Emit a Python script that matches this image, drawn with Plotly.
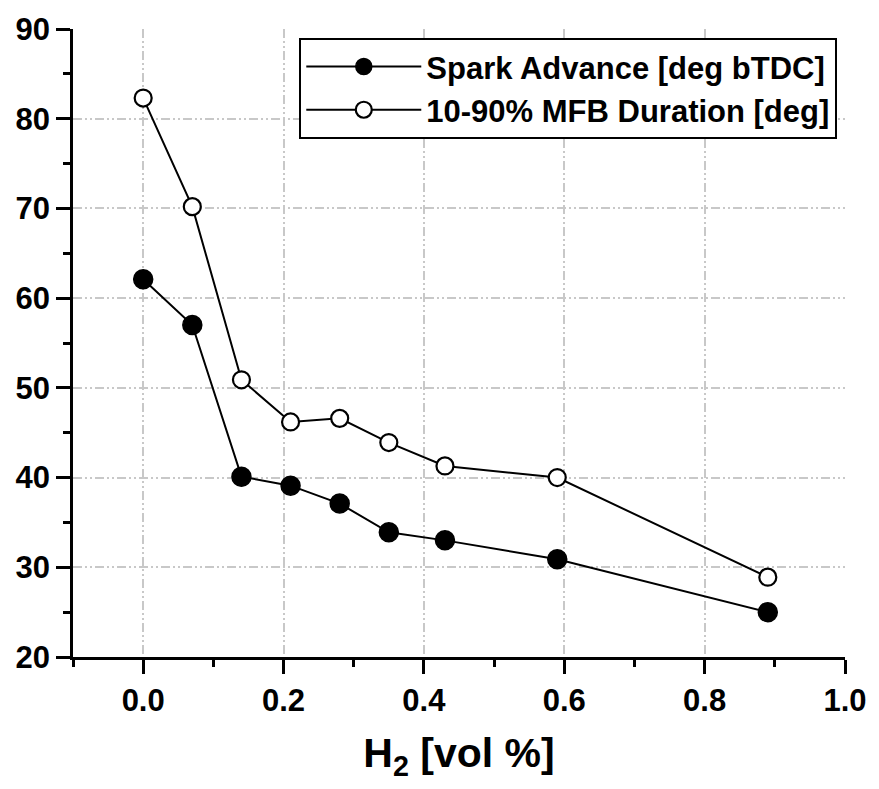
import plotly.graph_objects as go

h2 = [0.0, 0.07, 0.14, 0.21, 0.28, 0.35, 0.43, 0.59, 0.89]
spark_advance = [62.1, 57.0, 40.1, 39.1, 37.1, 33.9, 33.0, 30.9, 25.0]
mfb_duration = [82.3, 70.2, 50.9, 46.2, 46.6, 43.9, 41.3, 40.0, 28.9]
series_names = ["Spark Advance [deg bTDC]", "10-90% MFB Duration [deg]"]

FONT = "Liberation Sans, Arial, sans-serif"
GRID = "#c8c8c8"
DASH = "9px,3px,2px,3px,2px,3px"

fig = go.Figure()
fig.add_trace(go.Scatter(
    x=h2, y=spark_advance, name=series_names[0], mode="lines+markers",
    line=dict(color="black", width=2),
    marker=dict(symbol="circle", size=19, color="black", line=dict(color="black", width=1.5)),
))
fig.add_trace(go.Scatter(
    x=h2, y=mfb_duration, name=series_names[1], mode="lines+markers",
    line=dict(color="black", width=2),
    marker=dict(symbol="circle", size=17, color="white", line=dict(color="black", width=2.2)),
))

axis_common = dict(
    showline=True, linecolor="black", linewidth=2.5,
    tickcolor="black", tickwidth=2.5, ticklen=14,
    zeroline=False,
    tickfont=dict(family=FONT, size=31, color="black", weight="bold"),
)

fig.update_layout(
    width=879, height=789,
    margin=dict(l=73, r=27, t=24, b=132),
    paper_bgcolor="white", plot_bgcolor="white",
    font=dict(family=FONT, color="black"),
    showlegend=True,
    legend=dict(
        x=0.99, y=0.986, xanchor="right", yanchor="top",
        bgcolor="white", bordercolor="black", borderwidth=2,
        font=dict(family=FONT, size=31, color="black", weight="bold"),
        itemwidth=115, tracegroupgap=0,
    ),
    xaxis=dict(
        range=[-0.1, 1.0], tick0=0, dtick=0.2, tickformat=".1f",
        ticks="outside", side="bottom",
        showgrid=True, gridcolor=GRID, gridwidth=1.5, griddash=DASH,
        minor=dict(tick0=0, dtick=0.1, ticks="outside", ticklen=7, tickwidth=2.5, tickcolor="black", showgrid=False),
        title=dict(text="H<sub>2</sub> [vol %]", font=dict(family=FONT, size=41, color="black", weight="bold"), standoff=22),
        **axis_common,
    ),
    yaxis=dict(
        range=[20, 90], tick0=20, dtick=10,
        ticks="outside", side="left",
        showgrid=True, gridcolor=GRID, gridwidth=1.5, griddash=DASH,
        minor=dict(tick0=20, dtick=5, ticks="outside", ticklen=7, tickwidth=2.5, tickcolor="black", showgrid=False),
        **axis_common,
    ),
    xaxis2=dict(
        overlaying="x", anchor="y", side="top",
        range=[-0.1, 1.0], tick0=0, dtick=0.2,
        ticks="inside", showticklabels=False, showgrid=False,
        minor=dict(tick0=0, dtick=0.1, ticks="inside", ticklen=7, tickwidth=2.5, tickcolor="black", showgrid=False),
        **axis_common,
    ),
    yaxis2=dict(
        overlaying="y", anchor="x", side="right",
        range=[20, 90], tick0=20, dtick=10,
        ticks="inside", showticklabels=False, showgrid=False,
        minor=dict(tick0=20, dtick=5, ticks="inside", ticklen=7, tickwidth=2.5, tickcolor="black", showgrid=False),
        **axis_common,
    ),
)

fig.write_html("out.html")
